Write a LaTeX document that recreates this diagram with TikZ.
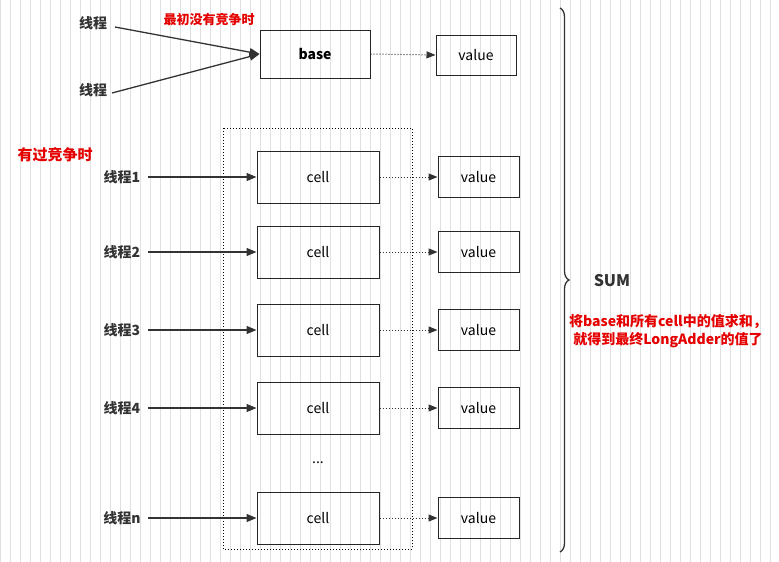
\documentclass[tikz,border=0pt]{standalone}
\usepackage{fontspec}
\setmainfont{Noto Sans CJK SC}
\usetikzlibrary{arrows.meta,decorations.pathreplacing}
\begin{document}
\begin{tikzpicture}[x=1pt,y=-1pt,
  box/.style={draw=black!85,line width=1pt,minimum width=#1,inner sep=0pt},
  lab/.style={font=\fontsize{14}{16}\selectfont\bfseries,text=black!80},
  red/.style={font=\fontsize{14}{18}\selectfont\bfseries,text=red!90!black},
  arr/.style={-{Triangle[length=10pt,width=8pt]},line width=1.3pt,draw=black!80},
  dot/.style={-{Triangle[length=9pt,width=7pt]},dotted,line width=1pt,draw=black!80}]
\useasboundingbox (0,0) rectangle (779,562);
\fill[white] (0,0) rectangle (779,562);
\draw[black!12,line width=0.5pt] (0,0) grid[step=10] (779,562);
\node[box=110pt,minimum height=48pt,font=\fontsize{14}{16}\selectfont\bfseries] (base) at (315,54) {base};
\node[box=80pt,minimum height=40pt,font=\fontsize{14}{16}\selectfont] (bv) at (476,55) {value};
\node[lab] (t1) at (93,23) {线程};
\node[lab] (t2) at (93,90) {线程};
\coordinate (t1e) at (115,27);
\coordinate (t2e) at (112,93);
\draw[arr] (t1e) -- (base.west);
\draw[arr] (t2e) -- (base.west);
\draw[dot] (base.east) -- (bv.west);
\node[red,font=\fontsize{13}{15}\selectfont\bfseries] (r1) at (209,20) {最初没有竞争时};
\node[red,font=\fontsize{15}{17}\selectfont\bfseries] (r2) at (55,155) {有过竞争时};
\draw[dotted,line width=1pt] (223,128) rectangle (412,549);
\foreach \y/\n/\i in {177/1/a,252/2/b,330/3/c,408/4/d,518/n/e}{
  \node[box=122pt,minimum height=52pt,font=\fontsize{14}{16}\selectfont] (c\i) at (318,\y) {cell};
  \node[box=81pt,minimum height=41pt,font=\fontsize{14}{16}\selectfont] (v\i) at (478.5,\y) {value};
  \node[lab] (l\i) at (122,\y) {线程\n};
  \draw[arr] (l\i.east) ++(4,0) coordinate (s\i) -- (c\i.west);
  \draw[dot] (c\i.east) -- (v\i.west);
}
\node[font=\fontsize{14}{16}\selectfont] (dd) at (318,463) {...};
\coordinate (bt) at (560,8);
\coordinate (bb) at (560,552);
\draw[decorate,decoration={brace,amplitude=9pt},line width=1.3pt,black!80] (bt) -- (bb);
\node[font=\fontsize{16}{18}\selectfont\bfseries,text=black!80] (sum) at (612,281) {SUM};
\node[red,align=center] (r3) at (668,331) {将base和所有cell中的值求和，\\就得到最终LongAdder的值了};
\end{tikzpicture}
\end{document}
